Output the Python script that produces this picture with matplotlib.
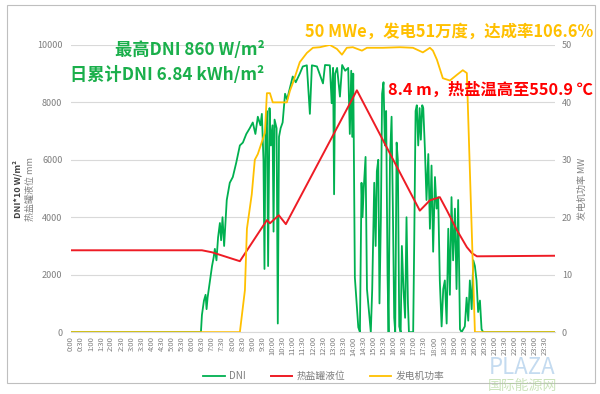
import numpy as np
import matplotlib
matplotlib.use('Agg')
import matplotlib.pyplot as plt
from matplotlib.patches import Rectangle

plt.rcParams['font.family'] = ['Noto Sans CJK SC', 'DejaVu Sans']

# time axis labels (every half hour)
time_labels = ['%d:%02d' % (h, m) for h in range(24) for m in (0, 30)]

# DNI*10 (W/m2)
dni_time = [
    0, 6.45, 6.50, 6.60, 6.68, 6.73, 6.78, 6.88, 7.00, 7.08,
    7.14, 7.22, 7.30, 7.39, 7.45, 7.52, 7.60, 7.73, 7.88, 8.03,
    8.20, 8.38, 8.53, 8.70, 8.87, 9.02, 9.15, 9.27, 9.40, 9.47,
    9.55, 9.60, 9.65, 9.72, 9.78, 9.85, 9.92, 10.00, 10.05, 10.10,
    10.20, 10.26, 10.32, 10.40, 10.50, 10.62, 10.72, 10.86, 11.00, 11.15,
    11.35, 11.50, 11.70, 11.85, 11.95, 12.20, 12.50, 12.60, 12.84, 12.93,
    13.00, 13.05, 13.10, 13.20, 13.34, 13.45, 13.60, 13.75, 13.83, 13.90,
    13.95, 14.00, 14.08, 14.25, 14.33, 14.41, 14.46, 14.52, 14.61, 14.68,
    14.77, 14.87, 14.94, 15.04, 15.11, 15.17, 15.24, 15.30, 15.37, 15.43,
    15.50, 15.57, 15.63, 15.70, 15.75, 15.82, 15.90, 15.96, 16.03, 16.08,
    16.15, 16.21, 16.28, 16.35, 16.41, 16.49, 16.57, 16.64, 16.71, 16.76,
    16.97, 17.02, 17.09, 17.15, 17.22, 17.29, 17.35, 17.42, 17.47, 17.55,
    17.63, 17.72, 17.80, 17.88, 17.96, 18.05, 18.13, 18.21, 18.29, 18.38,
    18.46, 18.54, 18.63, 18.71, 18.79, 18.87, 18.95, 19.04, 19.12, 19.20,
    19.29, 19.37, 19.53, 19.62, 19.70, 19.78, 19.87, 19.95, 20.03, 20.11,
    20.19, 20.28, 20.36, 20.44, 24.0]
dni_value = [
    0, 0, 600, 1100, 1300, 800, 1200, 1700, 2300, 2600,
    2900, 2500, 3300, 3800, 3200, 4000, 3000, 4600, 5200, 5400,
    5900, 6500, 6600, 6900, 7100, 7300, 6900, 7500, 7200, 7600,
    6000, 2200, 6800, 7700, 2300, 7800, 6500, 7200, 3500, 7400,
    7100, 300, 6800, 7100, 7300, 8300, 8100, 8500, 8900, 8700,
    9000, 9250, 9290, 7600, 9290, 9250, 8660, 9300, 9290, 7970,
    9200, 4800, 9000, 9200, 8200, 9300, 9100, 9200, 6900, 9100,
    6800, 9000, 1900, 170, 0, 5200, 4000, 5000, 6100, 1500,
    800, 0, 1500, 5200, 3000, 5600, 6000, 1000, 4000, 8300,
    8700, 6500, 7700, 2000, 0, 6000, 7500, 4500, 500, 0,
    6600, 6000, 200, 0, 3000, 1500, 500, 4000, 1000, 0,
    0, 3000, 7700, 7900, 6500, 7800, 6700, 7900, 7800, 6400,
    4600, 6200, 3600, 5800, 2800, 5400, 4300, 4700, 1800, 200,
    1500, 1800, 300, 3600, 1300, 4700, 2500, 4300, 1500, 4600,
    100, 0, 200, 1200, 400, 1800, 800, 2500, 2300, 1800,
    700, 1100, 100, 0, 0]

# hot salt tank level (mm)
salt_time = [0, 6.5, 7.0, 8.38, 9.72, 9.87, 10.31, 10.66, 14.18,
             17.30, 17.8, 18.29, 18.64, 19.14, 19.63, 19.88, 20.13, 24.0]
salt_value = [2850, 2850, 2780, 2470, 3900, 3790, 4070, 3760, 8420,
              4230, 4590, 4700, 4240, 3550, 2960, 2750, 2640, 2660]

# generator power (MW)
gen_time = [0, 8.38, 8.63, 8.73, 8.97, 9.12, 9.27, 9.62, 9.72, 9.87,
            10.01, 10.71, 10.86, 11.01, 11.35, 11.70, 12.0, 12.35, 12.84, 13.19,
            13.44, 13.68, 13.98, 14.43, 14.68, 15.47, 16.31, 16.96, 17.45, 17.80,
            17.95, 18.15, 18.44, 18.79, 19.14, 19.43, 19.63, 20.03, 24.0]
gen_value = [0, 0, 7.3, 18, 24, 30, 31, 34.7, 41.6, 41.6,
             40, 40, 42, 43.4, 47, 48.6, 49.5, 49.6, 50, 49.3,
             48.3, 49.5, 49.6, 49, 49.5, 49.5, 49.6, 49.5, 48.7, 49.5,
             49, 47.4, 44.2, 43.8, 44.8, 45.6, 45.1, 0, 0]

green = '#00B050'
red = '#EE1C25'
yellow = '#FFC000'
grey = '#7F7F7F'

fig = plt.figure(figsize=(6, 3.94), dpi=100)
ax = fig.add_axes([0.118, 0.157, 0.807, 0.729])
ax2 = ax.twinx()

l1, = ax.plot(dni_time, dni_value, color=green, lw=1.3, label='DNI', zorder=3)
l2, = ax.plot(salt_time, salt_value, color=red, lw=1.4, label='热盐罐液位', zorder=4)
l3, = ax2.plot(gen_time, gen_value, color=yellow, lw=1.3, label='发电机功率', zorder=5)

ax.set_xlim(0, 24)
ax.set_ylim(0, 10000)
ax2.set_ylim(0, 50)
ax.set_yticks(range(0, 10001, 2000))
ax2.set_yticks(range(0, 51, 10))
ax.set_xticks(np.arange(0, 24, 0.5))
ax.set_xticklabels(time_labels, rotation=90)

ax.grid(axis='y', color='#D9D9D9', lw=0.8)
ax.set_axisbelow(True)
for a in (ax, ax2):
    for s in a.spines.values():
        s.set_visible(False)
ax.spines['bottom'].set_visible(True)
ax.spines['bottom'].set_color('#D9D9D9')
ax.tick_params(axis='x', length=0, pad=3, labelsize=5.5, labelcolor=grey)
ax.tick_params(axis='y', length=0, pad=6, labelsize=6.5, labelcolor=grey)
ax2.tick_params(axis='y', length=0, pad=5, labelsize=6.5, labelcolor=grey)

# axis titles
fig.text(18 / 600, 0.52, 'DNI*10 W/m²', rotation=90, ha='center', va='center',
         fontsize=6.5, fontweight='bold', color='#404040')
fig.text(30 / 600, 0.52, '热盐罐液位 mm', rotation=90, ha='center', va='center',
         fontsize=6.5, color=grey)
fig.text(582 / 600, 0.52, '发电机功率 MW', rotation=90, ha='center', va='center',
         fontsize=6.5, color=grey)

# annotations
fig.text(115 / 600, 1 - 50 / 394, '最高DNI 860 W/m²', ha='left', va='center',
         fontsize=12.4, fontweight='bold', color='#1AAF4B')
fig.text(70 / 600, 1 - 75 / 394, '日累计DNI 6.84 kWh/m²', ha='left', va='center',
         fontsize=12.4, fontweight='bold', color='#1AAF4B')
fig.text(305 / 600, 1 - 32 / 394, '50 MWe，发电51万度，达成率106.6%', ha='left',
         va='center', fontsize=11.8, fontweight='bold', color=yellow)
fig.text(388 / 600, 1 - 90 / 394, '8.4 m，热盐温高至550.9 ℃', ha='left',
         va='center', fontsize=11.7, fontweight='bold', color='#FF0000')

leg = fig.legend(handles=[l1, l2, l3], loc='center', bbox_to_anchor=(0.54, 1 - 376 / 394),
                 ncol=3, frameon=False, fontsize=7, handlelength=2.2,
                 columnspacing=2.5, handletextpad=0.5)
for t in leg.get_texts():
    t.set_color(grey)

# watermark
fig.text(0.87, 1 - 368 / 394, 'PLAZA', ha='center', va='center', fontsize=16,
         style='italic', color='#9DC3E6', alpha=0.6)
fig.text(0.87, 1 - 386 / 394, '国际能源网', ha='center', va='center', fontsize=10,
         color='#A9D18E', alpha=0.6)

fig.patches.append(Rectangle((7 / 600, 1 - 383 / 394), 588 / 600, 378 / 394,
                             transform=fig.transFigure, fill=False,
                             ec='#BFBFBF', lw=0.8))

fig.savefig('out.png', dpi=100)
